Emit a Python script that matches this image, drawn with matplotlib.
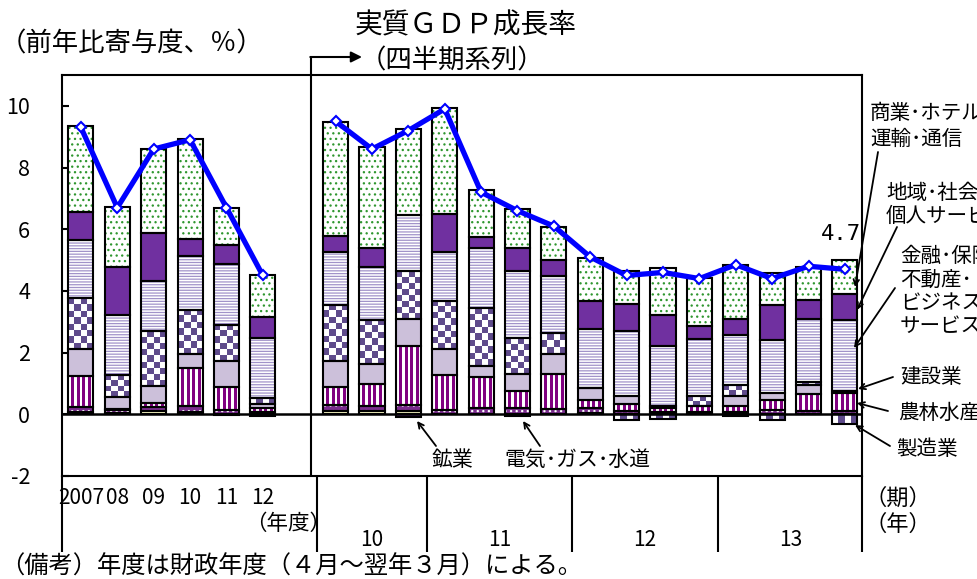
import numpy as np
import matplotlib
matplotlib.use("Agg")
import matplotlib.pyplot as plt
from matplotlib.colors import ListedColormap

plt.rcParams['font.family'] = ['Noto Sans CJK JP', 'DejaVu Sans']
plt.rcParams['hatch.linewidth'] = 0.9
plt.rcParams['axes.unicode_minus'] = False

# ---------------- data ----------------
fy_labels = ['2007', '08', '09', '10', '11', '12']
q_year_labels = ['10', '11', '12', '13']
q_per_year = [3, 4, 4, 4]

# contributions to real GDP growth (percentage points), fiscal years 2007-2012
mining_fy    = [0.08, 0.04, 0.12, 0.09, -0.02, -0.06]
elec_fy      = [0.17, 0.09, 0.13, 0.18, 0.13, 0.06]
agri_fy      = [0.99, 0.05, 0.13, 1.24, 0.76, 0.14]
constr_fy    = [0.88, 0.39, 0.54, 0.45, 0.83, 0.12]
manuf_fy     = [1.65, 0.72, 1.77, 1.43, 1.19, 0.20]
finance_fy   = [1.88, 1.94, 1.62, 1.73, 1.96, 1.96]
community_fy = [0.90, 1.56, 1.56, 0.57, 0.62, 0.66]
trade_fy     = [2.80, 1.94, 2.72, 3.23, 1.21, 1.38]
gdp_fy       = [9.3, 6.7, 8.6, 8.9, 6.7, 4.5]

# quarterly series (2010 Q2 - 2013 Q4)
mining_q    = [0.12, 0.12, 0.12, 0.00, 0.00, -0.06, 0.00, 0.05, 0.00, 0.00, 0.00, -0.04, 0.00, 0.00, 0.00]
elec_q      = [0.17, 0.14, 0.17, 0.13, 0.19, 0.19, 0.18, 0.17, 0.11, 0.06, 0.08, 0.08, 0.13, 0.12, 0.10]
agri_q      = [0.59, 0.71, 1.94, 1.13, 1.03, 0.56, 1.14, 0.26, 0.21, 0.16, 0.18, 0.18, 0.34, 0.53, 0.60]
constr_q    = [0.84, 0.65, 0.86, 0.86, 0.34, 0.57, 0.62, 0.38, 0.27, 0.05, 0.00, 0.33, 0.23, 0.30, 0.05]
manuf_q     = [1.83, 1.43, 1.54, 1.56, 1.89, 1.16, 0.68, 0.00, -0.18, -0.14, 0.34, 0.36, -0.20, 0.10, -0.30]
finance_q   = [1.70, 1.74, 1.83, 1.58, 1.94, 2.15, 1.87, 1.89, 2.12, 1.94, 1.84, 1.61, 1.72, 2.04, 2.32]
community_q = [0.54, 0.60, -0.08, 1.23, 0.37, 0.76, 0.52, 0.91, 0.88, 1.02, 0.43, 0.52, 1.13, 0.60, 0.84]
trade_q     = [3.69, 3.26, 2.78, 3.45, 1.51, 1.27, 1.07, 1.40, 1.07, 1.51, 1.54, 1.77, 1.03, 1.10, 1.10]
gdp_q       = [9.5, 8.6, 9.2, 9.9, 7.2, 6.6, 6.1, 5.1, 4.5, 4.6, 4.4, 4.85, 4.4, 4.8, 4.7]

# ---------------- figure ----------------
W_PX, H_PX = 977, 579
fig = plt.figure(figsize=(W_PX / 100, H_PX / 100), dpi=100)
ax = fig.add_axes([62 / W_PX, (H_PX - 476) / H_PX, 800 / W_PX, 401 / H_PX])
XLIM = (-0.52, 21.47)
YLIM = (-2, 11)
ax.set_xlim(*XLIM)
ax.set_ylim(*YLIM)
ppu_y = 401 / (YLIM[1] - YLIM[0])

def F(x, y):
    return (x / W_PX, 1 - y / H_PX)

x_fy = np.arange(len(fy_labels))
x_q = np.arange(sum(q_per_year)) + len(fy_labels) + 1
x_all = np.concatenate([x_fy, x_q])
BW = 0.69

series = [
    (mining_fy + mining_q,       ('solid', '#ffffc8')),
    (elec_fy + elec_q,           ('hatch', '#7b2d8e', 'white', '...')),
    (agri_fy + agri_q,           ('vstripe', '#800080')),
    (constr_fy + constr_q,       ('solid', '#ccc0da')),
    (manuf_fy + manuf_q,         ('checker', '#5f4b8b')),
    (finance_fy + finance_q,     ('hatch', 'white', '#a193c9', '------')),
    (community_fy + community_q, ('solid', '#7030a0')),
    (trade_fy + trade_q,         ('hatch', 'white', '#2f962f', '...')),
]

def draw_pattern(x, b, v, kind, color):
    lo, hi = min(b, b + v), max(b, b + v)
    if hi - lo <= 0:
        return
    h_px = (hi - lo) * ppu_y
    if kind == 'checker':
        nr = max(1, int(round(h_px / 6.3)))
        arr = np.add.outer(np.arange(nr), np.arange(4)) % 2
    else:
        arr = (np.arange(9) % 2)[None, :]
    ax.imshow(arr, cmap=ListedColormap(['white', color]), vmin=0, vmax=1,
              extent=(x - BW / 2, x + BW / 2, lo, hi), origin='lower',
              aspect='auto', interpolation='nearest', zorder=2.5)

pos_base = np.zeros(len(x_all))
neg_base = np.zeros(len(x_all))
for vals, st in series:
    vals = np.array(vals, dtype=float)
    bottoms = np.where(vals >= 0, pos_base, neg_base)
    kind = st[0]
    if kind == 'solid':
        ax.bar(x_all, vals, BW, bottom=bottoms, color=st[1], linewidth=0, zorder=2)
    elif kind == 'hatch':
        ax.bar(x_all, vals, BW, bottom=bottoms, color=st[1], edgecolor=st[2],
               hatch=st[3], linewidth=0, zorder=2)
    else:
        ax.bar(x_all, vals, BW, bottom=bottoms, color='white', linewidth=0, zorder=2)
        for xi, bi, vi in zip(x_all, bottoms, vals):
            draw_pattern(xi, bi, vi, kind, st[1])
    ax.bar(x_all, vals, BW, bottom=bottoms, fill=False, edgecolor='black',
           linewidth=1.5, zorder=3)
    pos_base += np.where(vals > 0, vals, 0)
    neg_base += np.where(vals < 0, vals, 0)

# GDP growth line
for xs, ys in ((x_fy, gdp_fy), (x_q, gdp_q)):
    ax.plot(xs, ys, color='#0000ff', lw=3.8, marker='D', ms=5.5, mfc='white',
            mec='#0000ff', mew=1.5, zorder=6)

ax.axhline(0, color='black', lw=1.8, zorder=4)
ax.set_xlim(*XLIM)
ax.set_ylim(*YLIM)

# axes styling
for sp in ax.spines.values():
    sp.set_linewidth(1.5)
ax.set_xticks([])
ax.set_yticks(np.arange(-2, 11, 2))
ax.tick_params(axis='y', direction='in', length=5, width=1.5, pad=23, labelsize=15.5)

# divider between fiscal-year and quarterly parts, with arrow
div_x = 6.32
ax.plot([div_x, div_x], [0, 1 + (75 - 57) / 401], transform=ax.get_xaxis_transform(),
        color='black', lw=1.5, clip_on=False, zorder=5, solid_capstyle='butt')
ax.annotate('', xy=F(362, 57), xycoords='figure fraction', xytext=F(310.3, 57),
            textcoords='figure fraction',
            arrowprops=dict(arrowstyle='-|>', lw=1.5, color='black', mutation_scale=16,
                            shrinkA=0, shrinkB=0), annotation_clip=False)

# separators below the axis
bounds = len(fy_labels) + 0.5 + np.cumsum([0] + q_per_year[:-1])
sep_x = list(bounds) + [XLIM[0], XLIM[1]]
for sx in sep_x:
    ax.plot([sx, sx], [0, -(552 - 476) / 401], transform=ax.get_xaxis_transform(),
            color='black', lw=1.5, clip_on=False, solid_capstyle='butt')

# x labels
xt = ax.get_xaxis_transform()
for xi, lab in zip(x_fy, fy_labels):
    ax.text(xi, -(498 - 476) / 401, lab, transform=xt, ha='center', va='center', fontsize=15)
starts = len(fy_labels) + 1 + np.cumsum([0] + q_per_year[:-1])
for s, n, lab in zip(starts, q_per_year, q_year_labels):
    ax.text(s + (n - 1) / 2, -(540 - 476) / 401, lab, transform=xt, ha='center',
            va='center', fontsize=15)

# texts
fig.text(*F(466, 25), '実質ＧＤＰ成長率', ha='center', va='center', fontsize=20)
fig.text(*F(360, 61), '（四半期系列）', ha='left', va='center', fontsize=19)
fig.text(*F(0, 44), '（前年比寄与度、％）', ha='left', va='center', fontsize=19)
fig.text(*F(288, 524), '（年度）', ha='center', va='center', fontsize=15.5)
fig.text(*F(864, 498), '（期）', ha='left', va='center', fontsize=16)
fig.text(*F(864, 524), '（年）', ha='left', va='center', fontsize=16)
fig.text(*F(0, 567), '（備考）年度は財政年度（４月～翌年３月）による。', ha='left',
         va='center', fontsize=17.5)
fig.text(*F(841, 234), '4.7', ha='center', va='center', fontsize=16,
         family='DejaVu Sans Mono')

right_labels = [
    (870, 113, '商業･ホテル･'), (870, 139, '運輸･通信'),
    (886, 193, '地域･社会･'), (886, 216, '個人サービス'),
    (900, 256, '金融･保険･'), (900, 280, '不動産･'), (900, 303, 'ビジネス'),
    (900, 326, 'サービス'),
    (900, 377, '建設業'), (898, 413, '農林水産業'), (896, 449, '製造業'),
]
for x, y, t in right_labels:
    fig.text(*F(x, y), t, ha='left', va='center', fontsize=14.8)

fig.text(*F(452, 460), '鉱業', ha='center', va='center', fontsize=15)
fig.text(*F(504, 460), '電気･ガス･水道', ha='left', va='center', fontsize=15)

arrows = [
    ((878, 152), (855, 287)),
    ((897, 227), (857, 310)),
    ((895, 288), (854, 348)),
    ((893, 377), (858, 389)),
    ((888, 411), (857, 403)),
    ((890, 446), (855, 425)),
    ((436, 446), (417, 421)),
    ((540, 446), (523, 421)),
]
for (sx, sy), (tx, ty) in arrows:
    ax.annotate('', xy=F(tx, ty), xycoords='figure fraction', xytext=F(sx, sy),
                textcoords='figure fraction',
                arrowprops=dict(arrowstyle='->', lw=1.3, color='black', mutation_scale=10,
                                shrinkA=0, shrinkB=0), annotation_clip=False, zorder=7)

fig.savefig('out.png', dpi=100)
